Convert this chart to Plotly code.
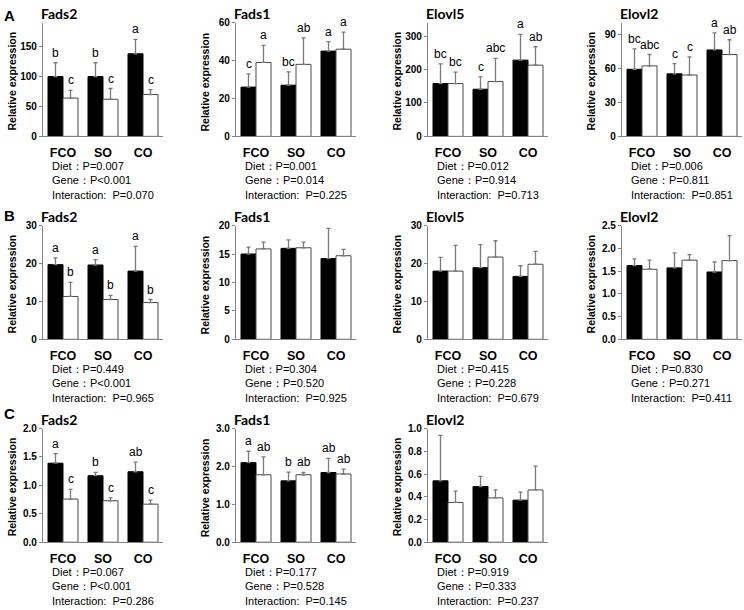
import plotly.graph_objects as go

W, H = 744, 610

diets = ["FCO", "SO", "CO"]

# ---------------- data (mean, upper SD, significance letters) ----------------
# Row A
a_fads2_black = [100, 100, 138]; a_fads2_black_sd = [23, 23, 24]
a_fads2_white = [64, 62, 70];    a_fads2_white_sd = [13, 18, 8]
a_fads2_black_lbl = ["b", "b", "a"]; a_fads2_white_lbl = ["c", "c", "c"]

a_fads1_black = [26, 27, 45]; a_fads1_black_sd = [7, 7, 5]
a_fads1_white = [39, 38, 46]; a_fads1_white_sd = [9, 14, 9]
a_fads1_black_lbl = ["c", "bc", "a"]; a_fads1_white_lbl = ["a", "ab", "a"]

a_elovl5_black = [158, 141, 228]; a_elovl5_black_sd = [59, 37, 77]
a_elovl5_white = [158, 164, 213]; a_elovl5_white_sd = [34, 69, 55]
a_elovl5_black_lbl = ["bc", "c", "a"]; a_elovl5_white_lbl = ["bc", "abc", "ab"]

a_elovl2_black = [59, 55, 76]; a_elovl2_black_sd = [18, 9, 15]
a_elovl2_white = [62, 54, 72]; a_elovl2_white_sd = [10, 16, 13]
a_elovl2_black_lbl = ["bc", "c", "a"]; a_elovl2_white_lbl = ["abc", "c", "ab"]

# Row B
b_fads2_black = [19.7, 19.6, 18.0]; b_fads2_black_sd = [1.8, 1.4, 6.5]
b_fads2_white = [11.3, 10.5, 9.7];  b_fads2_white_sd = [3.7, 1.1, 0.8]
b_fads2_black_lbl = ["a", "a", "a"]; b_fads2_white_lbl = ["b", "b", "b"]

b_fads1_black = [15.0, 16.0, 14.2]; b_fads1_black_sd = [1.2, 1.5, 5.3]
b_fads1_white = [15.9, 16.1, 14.7]; b_fads1_white_sd = [1.2, 1.0, 1.1]

b_elovl5_black = [18.0, 18.9, 16.6]; b_elovl5_black_sd = [3.6, 6.1, 2.8]
b_elovl5_white = [18.0, 21.7, 19.8]; b_elovl5_white_sd = [6.8, 4.3, 3.4]

b_elovl2_black = [1.62, 1.57, 1.48]; b_elovl2_black_sd = [0.15, 0.33, 0.22]
b_elovl2_white = [1.54, 1.74, 1.73]; b_elovl2_white_sd = [0.20, 0.12, 0.55]

# Row C
c_fads2_black = [1.39, 1.17, 1.24]; c_fads2_black_sd = [0.17, 0.06, 0.17]
c_fads2_white = [0.76, 0.73, 0.67]; c_fads2_white_sd = [0.17, 0.05, 0.07]
c_fads2_black_lbl = ["a", "b", "ab"]; c_fads2_white_lbl = ["c", "c", "c"]

c_fads1_black = [2.10, 1.62, 1.84]; c_fads1_black_sd = [0.30, 0.23, 0.37]
c_fads1_white = [1.78, 1.78, 1.80]; c_fads1_white_sd = [0.47, 0.06, 0.13]
c_fads1_black_lbl = ["a", "b", "ab"]; c_fads1_white_lbl = ["ab", "ab", "ab"]

c_elovl2_black = [0.54, 0.49, 0.37]; c_elovl2_black_sd = [0.40, 0.09, 0.07]
c_elovl2_white = [0.35, 0.39, 0.46]; c_elovl2_white_sd = [0.10, 0.07, 0.21]

# Stats text
a_stats = [["P=0.007", "P<0.001", "P=0.070"], ["P=0.001", "P=0.014", "P=0.225"],
           ["P=0.012", "P=0.914", "P=0.713"], ["P=0.006", "P=0.811", "P=0.851"]]
b_stats = [["P=0.449", "P<0.001", "P=0.965"], ["P=0.304", "P=0.520", "P=0.925"],
           ["P=0.415", "P=0.228", "P=0.679"], ["P=0.830", "P=0.271", "P=0.411"]]
c_stats = [["P=0.067", "P<0.001", "P=0.286"], ["P=0.177", "P=0.528", "P=0.145"],
           ["P=0.919", "P=0.333", "P=0.237"]]

panels = [
    # row, col, title, black, black_sd, white, white_sd, black_lbl, white_lbl, range, dtick, fmt, stats
    (0, 0, "Fads2", a_fads2_black, a_fads2_black_sd, a_fads2_white, a_fads2_white_sd, a_fads2_black_lbl, a_fads2_white_lbl, 190, 50, "d", a_stats[0]),
    (0, 1, "Fads1", a_fads1_black, a_fads1_black_sd, a_fads1_white, a_fads1_white_sd, a_fads1_black_lbl, a_fads1_white_lbl, 60, 20, "d", a_stats[1]),
    (0, 2, "Elovl5", a_elovl5_black, a_elovl5_black_sd, a_elovl5_white, a_elovl5_white_sd, a_elovl5_black_lbl, a_elovl5_white_lbl, 340, 100, "d", a_stats[2]),
    (0, 3, "Elovl2", a_elovl2_black, a_elovl2_black_sd, a_elovl2_white, a_elovl2_white_sd, a_elovl2_black_lbl, a_elovl2_white_lbl, 100, 30, "d", a_stats[3]),
    (1, 0, "Fads2", b_fads2_black, b_fads2_black_sd, b_fads2_white, b_fads2_white_sd, b_fads2_black_lbl, b_fads2_white_lbl, 30, 10, "d", b_stats[0]),
    (1, 1, "Fads1", b_fads1_black, b_fads1_black_sd, b_fads1_white, b_fads1_white_sd, None, None, 20, 5, "d", b_stats[1]),
    (1, 2, "Elovl5", b_elovl5_black, b_elovl5_black_sd, b_elovl5_white, b_elovl5_white_sd, None, None, 30, 10, "d", b_stats[2]),
    (1, 3, "Elovl2", b_elovl2_black, b_elovl2_black_sd, b_elovl2_white, b_elovl2_white_sd, None, None, 2.5, 0.5, ".1f", b_stats[3]),
    (2, 0, "Fads2", c_fads2_black, c_fads2_black_sd, c_fads2_white, c_fads2_white_sd, c_fads2_black_lbl, c_fads2_white_lbl, 2.0, 0.5, ".1f", c_stats[0]),
    (2, 1, "Fads1", c_fads1_black, c_fads1_black_sd, c_fads1_white, c_fads1_white_sd, c_fads1_black_lbl, c_fads1_white_lbl, 3.0, 1.0, ".1f", c_stats[1]),
    (2, 2, "Elovl2", c_elovl2_black, c_elovl2_black_sd, c_elovl2_white, c_elovl2_white_sd, None, None, 1.0, 0.2, ".1f", c_stats[2]),
]

# ---------------- layout geometry (pixels) ----------------
col_x0 = [43, 236, 428, 622]
plot_w = 120
row_top = [17, 224, 431]
plot_h = 116

AXC = "#858585"
FONT = "Liberation Sans, Arial, sans-serif"
NB = "\u00a0"

fig = go.Figure()
layout = dict(
    width=W, height=H, margin=dict(l=0, r=0, t=0, b=0),
    paper_bgcolor="white", plot_bgcolor="white",
    showlegend=False, barmode="group", bargap=0.25, bargroupgap=0,
    font=dict(family=FONT, color="black"),
)
annotations = []

def px(x):
    return x / W

def py(y):
    return 1 - y / H

for idx, (r, c, title, blk, blk_sd, wht, wht_sd, blk_lbl, wht_lbl, ymax, dtick, fmt, stats) in enumerate(panels):
    n = idx + 1
    xa = "x" if n == 1 else f"x{n}"
    ya = "y" if n == 1 else f"y{n}"
    x0 = col_x0[c]; y0 = row_top[r]
    fig.add_trace(go.Bar(
        x=diets, y=blk, xaxis=xa, yaxis=ya, offsetgroup="a",
        marker=dict(color="black", line=dict(color="black", width=1)),
        error_y=dict(type="data", array=blk_sd, symmetric=False, arrayminus=[0, 0, 0],
                     color="#7a7a7a", thickness=1.3, width=2),
    ))
    fig.add_trace(go.Bar(
        x=diets, y=wht, xaxis=xa, yaxis=ya, offsetgroup="b",
        marker=dict(color="white", line=dict(color="#4a4a4a", width=1)),
        error_y=dict(type="data", array=wht_sd, symmetric=False, arrayminus=[0, 0, 0],
                     color="#7a7a7a", thickness=1.3, width=2),
    ))
    xkey = "xaxis" if n == 1 else f"xaxis{n}"
    ykey = "yaxis" if n == 1 else f"yaxis{n}"
    layout[xkey] = dict(
        domain=[px(x0), px(x0 + plot_w)], anchor=ya, type="category",
        showline=True, linecolor=AXC, linewidth=1.2, showgrid=False, zeroline=False,
        ticks="outside", ticklen=5, tickcolor="rgba(0,0,0,0)",
        tickfont=dict(size=12.5, weight="bold", color="black"),
        fixedrange=True,
    )
    layout[ykey] = dict(
        domain=[py(y0 + plot_h), py(y0)], anchor=xa, range=[0, ymax],
        tick0=0, dtick=dtick, tickformat=fmt,
        showline=True, linecolor=AXC, linewidth=1.2, showgrid=False, zeroline=False,
        ticks="outside", ticklen=3, tickcolor=AXC,
        tickfont=dict(size=10, weight="bold", color="black"),
        fixedrange=True,
    )
    # panel title
    annotations.append(dict(
        text=title, x=px(x0 - 4), y=py(y0 - 9), xref="paper", yref="paper",
        xanchor="left", yanchor="middle", showarrow=False,
        font=dict(size=14, weight="bold", family="Lato, Liberation Sans, sans-serif"),
    ))
    # y axis title
    annotations.append(dict(
        text="Relative expression", x=px(x0 - 31), y=py(y0 + plot_h / 2 + 2),
        xref="paper", yref="paper", textangle=-90,
        xanchor="center", yanchor="middle", showarrow=False,
        font=dict(size=10.5, weight="bold"),
    ))
    # significance letters
    if blk_lbl:
        for i, d in enumerate(diets):
            annotations.append(dict(
                text=blk_lbl[i], x=d, y=blk[i] + blk_sd[i], xref=xa, yref=ya,
                xshift=-7.5, yshift=1, xanchor="center", yanchor="bottom",
                showarrow=False, font=dict(size=12),
            ))
            annotations.append(dict(
                text=wht_lbl[i], x=d, y=wht[i] + wht_sd[i], xref=xa, yref=ya,
                xshift=7.5, yshift=1, xanchor="center", yanchor="bottom",
                showarrow=False, font=dict(size=12),
            ))
    # stats lines
    base = y0 + plot_h
    lines = [f"Diet：{stats[0]}", f"Gene：{stats[1]}", f"Interaction:{NB}{NB}{stats[2]}"]
    for k, line in enumerate(lines):
        annotations.append(dict(
            text=line, x=px(x0 + 7), y=py(base + 30 + 15 * k), xref="paper", yref="paper",
            xanchor="left", yanchor="middle", showarrow=False,
            font=dict(size=11),
        ))

# panel letters
for letter, yc in [("A", 10), ("B", 214), ("C", 416)]:
    annotations.append(dict(
        text=letter, x=px(2), y=py(yc), xref="paper", yref="paper",
        xanchor="left", yanchor="middle", showarrow=False,
        font=dict(size=15, weight="bold"),
    ))

layout["annotations"] = annotations
fig.update_layout(**layout)
fig.write_html("out.html", config={"displayModeBar": False},
               post_script="document.body.style.margin='0';document.body.style.overflow='hidden';")
